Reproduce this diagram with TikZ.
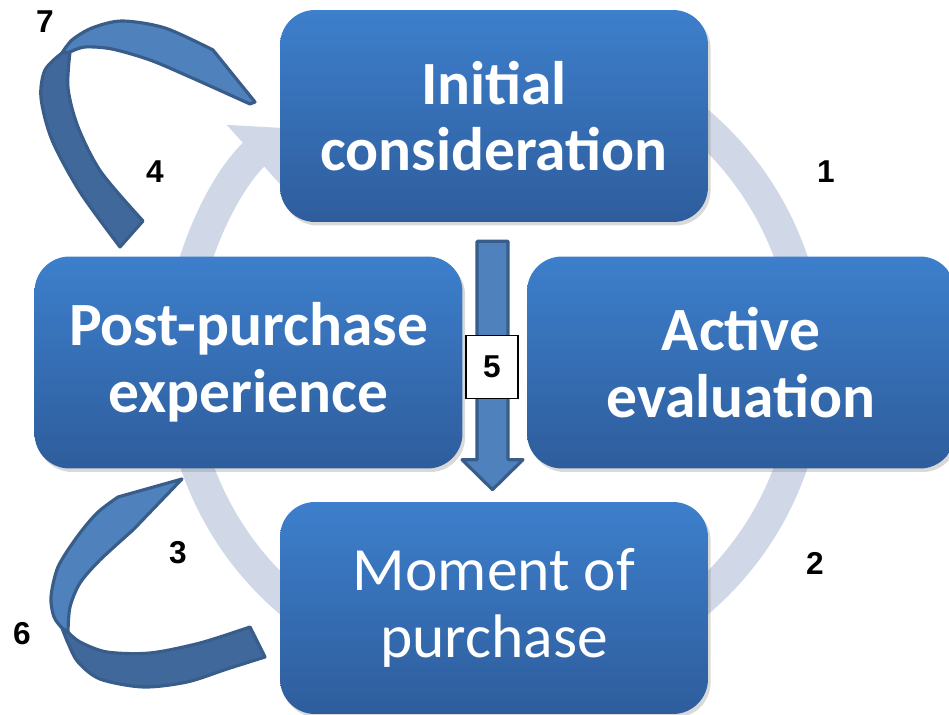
\documentclass[tikz,border=0pt]{standalone}
\usepackage{fontspec}
\setmainfont{Carlito}
\newfontfamily\numfont{Liberation Sans}
\usetikzlibrary{arrows.meta,calc,shadows}

\definecolor{ringgray}{RGB}{208,216,232}
\definecolor{boxtop}{RGB}{61,127,204}
\definecolor{boxbot}{RGB}{46,93,156}
\definecolor{ribbonlight}{RGB}{79,129,189}
\definecolor{ribbondark}{RGB}{64,104,154}
\definecolor{ribbonline}{RGB}{56,93,138}

\tikzset{
    stagebox/.style={rounded corners=0.7cm, minimum width=8.56cm, minimum height=4.24cm,
        top color=boxtop, bottom color=boxbot, text=white, align=center,
        font=\fontsize{35}{38}\selectfont,
        drop shadow={shadow xshift=1.5pt, shadow yshift=-2pt, opacity=0.3}},
    boldstage/.style={stagebox, font=\bfseries\fontsize{35}{38}\selectfont},
    ringarc/.style={draw=ringgray, line width=0.64cm},
    numlabel/.style={font=\numfont\bfseries\fontsize{18}{20}\selectfont},
    ribbon/.style={draw=ribbonline, line width=1.8pt, line join=round},
}

\begin{document}
\begin{tikzpicture}[x=0.02cm, y=-0.02cm]
    \useasboundingbox (0,0) rectangle (949,715);
    % Ring behind the stages
    \coordinate (c) at (494,362);
    \draw[ringarc] ($(c)+(55:6.3cm)$) arc[start angle=55, end angle=5, radius=6.3cm];
    \draw[ringarc] ($(c)+(-5:6.3cm)$) arc[start angle=-5, end angle=-55, radius=6.3cm];
    \draw[ringarc] ($(c)+(-125:6.3cm)$) arc[start angle=-125, end angle=-170, radius=6.3cm];
    \draw[ringarc, -{Triangle[length=0.8cm, width=1.56cm]}] ($(c)+(172:6.3cm)$) arc[start angle=172, end angle=132, radius=6.3cm];
    % Stages
    \node[boldstage] (init) at (494,116) {Initial\\consideration};
    \node[boldstage] (active) at (741,362.5) {Active\\evaluation};
    \node[stagebox] (purchase) at (494,608) {Moment of\\purchase};
    \node[boldstage] (post) at (248.5,362.5) {Post-purchase\\experience};
    % Ribbon 7
    \filldraw[ribbon, fill=ribbondark] plot[smooth] coordinates {(120,247) (80,192) (52,140) (41,98) (45,70) (62,53)}
        -- plot[smooth] coordinates {(70,52) (68,88) (78,127) (101,172) (143,221)} -- cycle;
    \filldraw[ribbon, fill=ribbonlight] plot[smooth] coordinates {(62,53) (72,40) (92,28) (122,21) (165,28) (213,50)}
        -- (255,102) -- plot[smooth] coordinates {(250,104) (190,77) (150,60) (112,49) (85,47) (70,52)} -- cycle;
    % Ribbon 6
    \filldraw[ribbon, fill=ribbondark] plot[smooth] coordinates {(62,628) (68,643) (78,662) (100,679) (143,687) (187,682) (227,669) (265,657)}
        -- plot[smooth] coordinates {(250,627) (200,643) (150,653) (107,652) (80,642) (68,632)} -- cycle;
    \filldraw[ribbon, fill=ribbonlight] (182,479) -- plot[smooth] coordinates {(118,497) (97,513) (77,537) (58,567) (51,597) (54,617) (62,628)}
        -- plot[smooth] coordinates {(68,632) (70,607) (80,583) (100,560) (133,530)} -- cycle;
    % Arrow 5
    \coordinate (a5start) at ($(init.south)+(-1.5,19)$);
    \coordinate (a5end) at ($(purchase.north)+(-1.5,-12)$);
    \filldraw[ribbon, fill=ribbonlight] ($(a5start)+(-15.5,0)$) -- ($(a5start)+(15.5,0)$) -- ($(a5end)+(15.5,-30)$)
        -- ($(a5end)+(30.5,-30)$) -- (a5end) -- ($(a5end)+(-30.5,-30)$) -- ($(a5end)+(-15.5,-30)$) -- cycle;
    \node[draw, line width=0.6pt, fill=white, minimum width=1.04cm, minimum height=1.26cm, numlabel] (five) at (492,367) {5};
    % Numbers
    \foreach \n/\x/\y in {1/826/172, 2/815/563, 3/178/553, 4/155/172, 6/22/634, 7/45/22} {
        \node[numlabel] (lbl\n) at (\x,\y) {\n};
    }
\end{tikzpicture}
\end{document}
